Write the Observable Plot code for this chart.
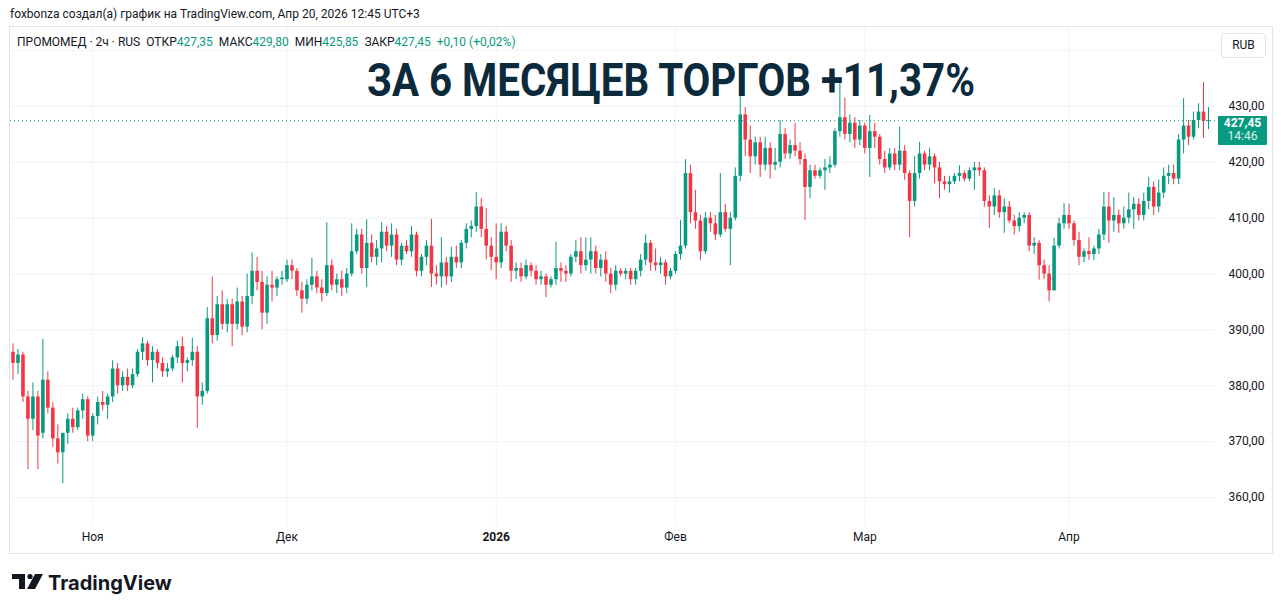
<!DOCTYPE html>
<html>
<head>
<meta charset="utf-8">
<script src="https://cdn.jsdelivr.net/npm/d3@7"></script>
<script src="https://cdn.jsdelivr.net/npm/@observablehq/plot@0.6"></script>
<style>
  html, body { margin: 0; padding: 0; background: #fff; }
  body { width: 1281px; height: 613px; position: relative; overflow: hidden; font-family: Roboto, "Noto Sans", sans-serif; color: #131722; }
  #hdr { position: absolute; left: 10px; top: 7px; font-size: 12px; line-height: 14px; white-space: nowrap; }
  #wrap { position: absolute; left: 9px; top: 26px; width: 1264px; height: 528px; box-sizing: border-box; border: 1px solid #e0e3eb; }
  #chart { position: absolute; left: 0; top: 0; }
  #legend { position: absolute; left: 7px; top: 8px; font-size: 12px; line-height: 14px; white-space: nowrap; color: #131722; }
  #legend .v { color: #089981; }
  #legend .g { margin-left: 6px; }
  #rub { position: absolute; left: 1211px; top: 6px; width: 45px; height: 25px; box-sizing: border-box; border: 1px solid #e0e3eb; border-radius: 4px; background: #fff; font-size: 12px; line-height: 23px; text-align: center; }
  #title { position: absolute; left: 0; top: 0; pointer-events: none; }
  #plabel { position: absolute; background: #089981; color: #fff; font-size: 12px; line-height: 13px; text-align: center; border-radius: 1px; }
  #plabel .p { font-weight: bold; }
  #plabel .t { opacity: 0.85; }
  #logo { position: absolute; left: 12px; top: 571px; }
</style>
</head>
<body>
<div id="hdr">foxbonza создал(а) график на TradingView.com, Апр 20, 2026 12:45 UTC+3</div>
<div id="wrap">
  <div id="chart"></div>
  <div id="legend">ПРОМОМЕД · 2ч · RUS<span class="g">ОТКР</span><span class="v">427,35</span><span class="g">МАКС</span><span class="v">429,80</span><span class="g">МИН</span><span class="v">425,85</span><span class="g">ЗАКР</span><span class="v">427,45</span><span class="g v">+0,10 (+0,02%)</span></div>
  <svg id="title" width="1262" height="110"><text x="661" y="69" text-anchor="middle" font-family="Roboto, 'Open Sans', sans-serif" font-weight="bold" font-size="47" fill="#0b2a3c" textLength="608" lengthAdjust="spacingAndGlyphs">ЗА 6 МЕСЯЦЕВ ТОРГОВ +11,37%</text></svg>
  <div id="rub">RUB</div>
  <div id="plabel"><div class="p">427,45</div><div class="t">14:46</div></div>
</div>
<svg id="logo" width="175" height="26">
  <rect x="0" y="3" width="13" height="5" fill="#131722"/>
  <rect x="7" y="3" width="6" height="15" fill="#131722"/>
  <circle cx="18" cy="5.5" r="2.6" fill="#131722"/>
  <polygon points="23,3 31,3 23,18 15,18" fill="#131722"/>
  <text x="36" y="18.5" font-family="Inter, Roboto, sans-serif" font-weight="bold" font-size="20" fill="#131722">TradingView</text>
</svg>
<script>
// ---- data (2h candles) ----
const open = [386,384,385.5,378,374,378,371.5,381,376,370.5,368,371.5,374,372.5,375.5,377.5,371,374.5,377,376.5,
378,383,380,381.5,380,382,386,387.5,384.5,386,384,382.5,383,385,387,384,384.5,386,378,379,
392,389,394.5,391,394.5,391,395,390.5,396,400.5,398.5,393,398,397.5,399,399,401.5,400.5,397,395.5,
398,399.5,397.5,396.5,401.5,398,399,397.5,400,404,407,401,405.5,403,404.5,407.5,405,407,402.5,405,
404,407,400.5,403,405,400,399.5,402,399.5,403,402,405.5,408,408.5,412,408,405,403,402,407.5,
405,400.5,401,399.5,401.5,400.5,399,399.5,398,399,401,400.5,400,403,404,401.5,402.5,404,401,402.5,
400,398,400.5,400,400.5,399,400.5,402.5,405.5,402,401.5,402,399.5,400.5,403.5,405,418,411,409.5,404,
410,409,407,411,408,410,417.5,428.5,424,421,423.5,419.5,422.5,419.5,420,425,421.5,423,422,420.5,
415.5,418.5,417.5,418.5,419,419.5,425.5,428,425,427,424,426.5,422.5,425.5,424.5,420.5,419,421.5,419.5,422,
418,413,418,421.5,419.5,421,419,416.5,416,416.5,417.5,418,417,418.5,419,418.5,413,412,414,411,
412,409.5,408.5,410,410.5,405,405.5,401.5,400,397,405,409,410.5,409,406,403,404,403.5,404.5,407,
412,409.5,410.5,409,410,411.5,412.5,410.5,413,415.5,412,414.5,417.5,418,417,424,426.5,424.5,427.5,429,
427.35];
const high = [387.5,386.5,386,379,380.5,379,388.3,382.5,377,373,371,375,376,376,378.5,378,375,378,379,378.5,
384.5,384,382.5,383,383,386.5,388.6,388,387,386.5,385,384,385.5,388,388.7,385,388.5,387,380.5,394,
399.5,396,397,395.5,395.5,397.5,396,400,403.8,403,400.5,399.5,400.5,399.5,400.5,402.5,402.5,401,398.5,399,
402.8,400.5,399,409.2,402.5,400,400.5,401,409,408,408,409.7,407,406,409.2,408.5,409,408,405.5,406,
408.5,407.5,403.5,406,409.8,401.5,406.5,403,404.8,405,406,409,409.5,414.6,413.5,411.7,406.5,409,409,408.5,
406,402,402,402.5,402,401.5,400.5,400,399.5,405.7,402,401.5,403.5,406,406.5,406.5,406.5,405,403.5,404,
401,401.5,401,401,401,401,403.5,407,406,404.5,403,402.5,401,404,409.6,420.5,419.5,415,410.5,411,
411,410.5,418,412.5,411,419,434.6,429.8,426.5,424.5,424.5,424.5,423.5,422.5,427.5,426,424,427,423.5,421.5,
419.5,419.5,419,420.5,421,426,435.2,431.5,428.5,428,427.5,427,428.4,427,425,422,422.5,422.5,426.3,423,
418.5,421,423.6,422,422.5,421.5,420,417.5,417.5,418,419.4,418.5,419,420,420,419,414,415.3,415,413.5,
413,410.5,411,411,411,406.5,406,402.5,401.5,406.4,410,412.6,412.5,409.5,407.5,404.5,406.5,405,408,414.6,
414.6,413.7,411.5,412,414.5,413.7,413.5,414.5,417.3,416.5,416.8,419,419.5,419.5,425,431.4,427.5,429,430.5,434.3,
429.8];
const low = [381,382,377,365,372,365,370.5,375,369,366,362.5,369.5,371.5,372,374,370,370,373,375.5,374,
377,378.5,379,379,379.5,381.5,384.5,383.5,380.5,383,381.5,381.5,382.5,384,380.5,382.5,383.5,372.4,376.5,378.5,
387.5,388,390,389.5,387,390,389,389.5,394.5,397,390,391,395,396,398,398.5,399,396,393,394.5,
397,396.5,395,396,397,396.5,396,396.5,399.5,403.5,400,397.6,402,401.5,402,404,403,401.5,401.5,403.5,
403,399.5,399.5,401.5,397.6,398,397.5,398,398.5,401,401,404.5,406.5,407.5,406.5,402.5,400.6,399,401,404,
398.5,399,398.5,399,399.5,398,398,395.8,397.5,398,398.5,398.5,399.5,402,400,400.5,400,400,399.5,398.5,
396.5,397,399.5,399,398,398,399.5,401.5,400.5,400.5,400,398,399,400,402.5,404.5,409,408,402.4,403.5,
407.5,406,406.5,407.5,401.5,409.5,416.5,421,418,419.5,417.3,418.5,417,418.5,419,420.5,420.5,421,419.5,409.6,
413.5,417,417,415,418,419,424.5,424,423.5,422.5,423,421.5,417.3,422.5,419.5,418,418.5,418.5,418.5,416.8,
406.5,412,417,418.5,418.5,416.2,413.5,415,414.5,416,416.5,416.5,416.5,415,417.5,412,408.2,410.5,410,407.3,
409,407,407.5,409,404,403.5,398.9,399,395,397,404.5,408,408,405,401.5,402,402.5,402.4,403.5,406,
405.5,407.5,407.3,408,409,408,409.5,409.5,411.5,410.5,411,413.5,416,416,416,421.5,423,424,426,424.3,
425.85];
const close = [384,385.5,378,374,378,371,381,376,370.5,368,371.5,374,372.5,375.5,377.5,371,374.5,377,376.5,378,
383,380,381.5,380,382,386,387.5,384.5,386,384,382.5,383,385,387,384,384.5,386,378,379,392,
389,394.5,391,394.5,391,395,390.5,396,400.5,398.5,393,398,397.5,399,399.3,401.5,400.5,397,395.5,398,
399.5,397.5,396.5,401.5,398,399,397.5,400,404,407,401,405.5,403,404.5,407.5,405,407,402.5,405,404,
407,400.5,403,405,400,399.5,402,399.5,403,402,405.5,408,408.5,412,408,405,403,402,407.5,405,
400.5,401,399.5,401.5,400.5,399,399.5,398,399,401,400.5,400,403,404,401.5,402.5,404,401,402.5,400,
398,400.5,400,400.5,399,400.5,402.5,405.5,402,401.5,402,399.5,400.5,403.5,405,418,411,409.5,404,410,
409,407,411,408,410,417.5,428.5,424,421,423.5,419.5,422.5,419.5,420,425,421.5,423,422,420.5,415.5,
418.5,417.5,418.5,419,419.5,425.5,428,425,427,424,426.5,422.5,425.5,424.5,420.5,419,421.5,419.5,422,418,
413,418,421.5,419.5,421,419,416.5,416,416.5,417.5,418,417,418.5,419,418.5,413,412,414,411,412,
409.5,408.5,410,410.5,405,405.5,401.5,400,397,405,409,410.5,409,406,403,404,403.5,404.5,407,412,
409.5,410.5,409,410,411.5,412.5,410.5,413,415.5,412,414.5,417.5,418,417,424,426.5,424.5,427.5,429,427.35,
427.45];
const monthIdx = [16, 55, 97, 133, 171, 212];
const monthLabels = ["Ноя", "Дек", "2026", "Фев", "Мар", "Апр"];
const priceTicks = [360, 370, 380, 390, 400, 410, 420, 430];
const gridTicks = [360, 370, 380, 390, 400, 410, 420, 430, 440];
const lastPrice = 427.45;

const UP = "#089981", DOWN = "#f23645", GRID = "#f0f3fa";
const rows = close.map((c, i) => ({i, o: open[i], h: high[i], l: low[i], c}));
const fmt = d => d.toFixed(2).replace(".", ",");
const col = d => d.c >= d.o ? UP : DOWN;

const W = 1262, H = 526;
const plot = Plot.plot({
  width: W, height: H,
  marginLeft: 0, marginRight: 57, marginTop: 0, marginBottom: 28,
  x: {domain: [0, rows.length - 1], range: [2.5, 1198], axis: null},
  y: {domain: [360, 430], range: [470, 79], axis: null},
  color: {type: "identity"},
  style: {fontFamily: "Roboto, 'Noto Sans', sans-serif", fontSize: "12px", color: "#131722", background: "transparent"},
  marks: [
    Plot.ruleY(gridTicks, {y: d => d, stroke: GRID, strokeWidth: 1}),
    Plot.ruleX(monthIdx, {x: d => d, stroke: GRID, strokeWidth: 1}),
    Plot.ruleX(rows, {x: "i", y1: "l", y2: "h", stroke: col, strokeWidth: 1}),
    Plot.ruleX(rows, {x: "i", y1: "o", y2: d => Math.abs(d.c - d.o) < 0.15 ? d.o + 0.15 : d.c, stroke: col, strokeWidth: 3.6}),
    Plot.ruleY([lastPrice], {y: d => d, stroke: UP, strokeWidth: 1, strokeDasharray: "1,3"}),
    Plot.text(priceTicks, {y: d => d, text: fmt, frameAnchor: "right", dx: 13, textAnchor: "start", fill: "#131722", fontSize: 12}),
    Plot.text(monthIdx.filter((d, k) => k !== 2), {x: d => d, text: d => monthLabels[monthIdx.indexOf(d)], frameAnchor: "bottom", dy: 15, fill: "#131722", fontSize: 12}),
    Plot.text([monthIdx[2]], {x: d => d, text: () => monthLabels[2], frameAnchor: "bottom", dy: 15, fill: "#131722", fontSize: 12, fontWeight: "bold"})
  ]
});
document.getElementById("chart").appendChild(plot);

// current price tag placed through the y scale
const yPx = plot.scale("y").apply(lastPrice);
const pl = document.getElementById("plabel");
pl.style.left = "1208px";
pl.style.top = (yPx - 4) + "px";
pl.style.width = "49px";
pl.style.height = "29px";
pl.style.paddingTop = "1px";
pl.style.boxSizing = "border-box";
</script>
</body>
</html>
